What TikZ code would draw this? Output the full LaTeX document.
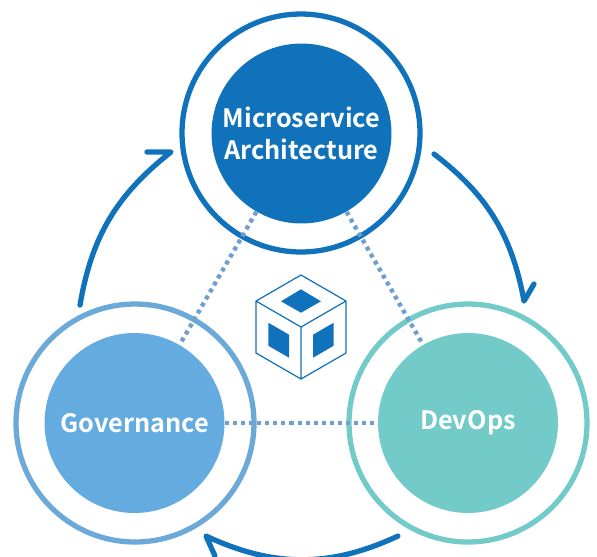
\documentclass[tikz,border=0pt]{standalone}
\usepackage{fontspec}
\setmainfont{Noto Sans CJK KR}[BoldFont={* Bold}]
\usepackage{tikz}
\definecolor{archblue}{HTML}{1172BC}
\definecolor{govblue}{HTML}{64ACE0}
\definecolor{govring}{HTML}{6BAAD8}
\definecolor{devteal}{HTML}{72CBC8}
\definecolor{dotblue}{HTML}{6F9FD0}
\tikzset{
  ring/.style={circle,draw,line width=3pt,minimum size=4.76cm,inner sep=0pt},
  hub/.style={circle,minimum size=3.6cm,inner sep=0pt,text=white,align=center,font=\fontsize{14.4}{18.2}\selectfont\bfseries},
  link/.style={dotblue,line width=2.5pt,dash pattern=on 2.3pt off 2.3pt},
  cycle/.style={archblue,line width=3pt,line cap=round,line join=round},
}
\begin{document}
\begin{tikzpicture}[x=0.02cm,y=-0.02cm]
\useasboundingbox (0,0) rectangle (597,556);
\clip (0,0) rectangle (597,556);
% circles
\node [ring,draw=archblue] (archring) at (301,133) {};
\node [ring,draw=govring] (govring) at (135,423) {};
\node [ring,draw=devteal] (devring) at (468,423) {};
\node [hub,fill=archblue] (arch) at (301.5,133.5) {Microservice\\Architecture};
\node [hub,fill=govblue] (gov) at (134.5,423) {Governance};
\node [hub,fill=devteal] (dev) at (468,423) {DevOps};
% dotted links
\draw [link] (arch) -- (gov);
\draw [link] (arch) -- (dev);
\draw [link] (gov) -- (dev);
% arrows round the outside
\coordinate (a1) at (434,154);
\coordinate (a2) at (524,301);
\coordinate (a3) at (534,284);
\coordinate (b1) at (398,536);
\coordinate (b2) at (206,536);
\coordinate (b3) at (215,556);
\coordinate (c1) at (80,305);
\coordinate (c2) at (171,152);
\coordinate (c3) at (147,152);
\draw [cycle] (a1) to [bend left=21] (a2) -- (a3);
\draw [cycle] (b1) to [bend left=25] (b2) -- (b3);
\draw [cycle] (c1) to [bend left=21] (c2) -- (c3);
% cube
\draw [archblue,line width=0.7pt,line join=round]
  (301,275) -- (346,301) -- (346,353) -- (301,379) -- (256,353) -- (256,301) -- cycle
  (256,301) -- (301,327) -- (346,301) (301,327) -- (301,379);
\fill [archblue] (301,289.3) -- (321,301.3) -- (301,312.7) -- (281,301.3) -- cycle;
\fill [archblue] (268.3,322.7) -- (289,334.7) -- (289,357.7) -- (268.3,345.7) -- cycle;
\fill [archblue] (333.7,322.7) -- (313,334.7) -- (313,357.7) -- (333.7,345.7) -- cycle;
\end{tikzpicture}
\end{document}
